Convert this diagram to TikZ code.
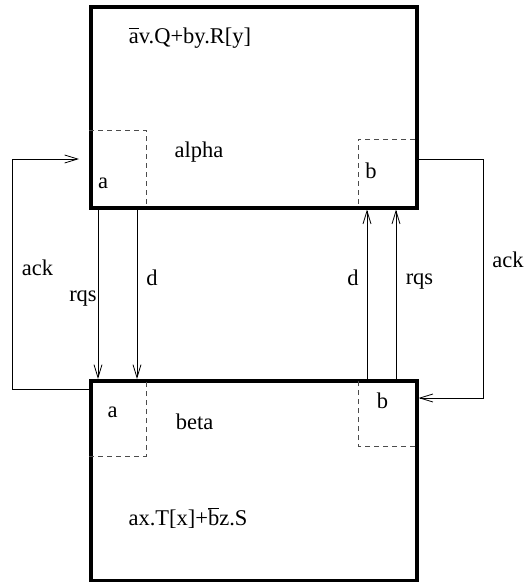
\documentclass[tikz,border=0pt]{standalone}
\usepackage{fontspec}
\setmainfont{Liberation Serif}
\usetikzlibrary{arrows.meta,calc}
\newcommand\ovl[1]{$\overline{\vphantom{b}\mbox{#1}}$}
\begin{document}
\begin{tikzpicture}[x=1pt,y=-1pt,
  proc/.style={draw, line width=3.6pt, minimum width=326pt, anchor=north west, inner sep=0pt},
  port/.style={draw=black!70, line width=0.9pt, dash pattern=on 5pt off 4pt},
  wire/.style={line width=0.8pt},
  arr/.style={wire, -{Straight Barb[length=13pt, width=8pt, line width=0.8pt]}},
  lbl/.style={inner sep=0pt, font=\fontsize{22.5}{27}\selectfont}]
\useasboundingbox (0,0) rectangle (526,582);
% process boxes
\node[proc, minimum height=201pt] (alpha) at (89,5) {};
\node[proc, minimum height=199.5pt] (beta) at (89,379) {};
% dashed ports
\draw[port] (89,130) -- (146,130) -- (146,206);
\draw[port] (415,139) -- (358,139) -- (358,206);
\draw[port] (89,456) -- (146,456) -- (146,379);
\draw[port] (415,446) -- (358,446) -- (358,379);
% texts
\node[lbl, anchor=base] (f1) at (190,43.5) {\ovl{a}v.Q+by.R[y]};
\node[lbl] (alab) at (199,152) {alpha};
\node[lbl] (aA) at (103,183) {a};
\node[lbl] (bA) at (371,170.5) {b};
\node[lbl] (blab) at (194.5,421.5) {beta};
\node[lbl] (aB) at (112.5,412.5) {a};
\node[lbl] (bB) at (382.5,400.5) {b};
\node[lbl, anchor=base] (f2) at (188,525) {ax.T[x]+\ovl{b}z.S};
\node[lbl] (ackL) at (37.5,268) {ack};
\node[lbl] (rqsL) at (83,298) {rqs};
\node[lbl] (dL) at (152,277.5) {d};
\node[lbl] (dR) at (353,278) {d};
\node[lbl] (rqsR) at (419.5,281.5) {rqs};
\node[lbl] (ackR) at (508,260) {ack};
% coordinates
\coordinate (x1) at (98,0);
\coordinate (x2) at (137,0);
\coordinate (x3) at (367,0);
\coordinate (x4) at (396,0);
\coordinate (yL1) at (0,389);
\coordinate (yL2) at (0,159);
\coordinate (cL1) at (12,389);
\coordinate (cL2) at (12,159);
\coordinate (tipL) at (79,159);
\coordinate (cR1) at (483,159);
\coordinate (cR2) at (483,398);
\coordinate (yR) at (0,398);
% vertical channels
\draw[arr] (x1 |- alpha.south) -- (x1 |- beta.north);
\draw[arr] (x2 |- alpha.south) -- (x2 |- beta.north);
\draw[arr] (x3 |- beta.north) -- (x3 |- alpha.south);
\draw[arr] (x4 |- beta.north) -- (x4 |- alpha.south);
% ack loops
\draw[arr] (beta.west |- cL1) -- (cL1) -- (cL2) -- (tipL);
\draw[arr] (alpha.east |- cR1) -- (cR1) -- (cR2) -- (beta.east |- cR2);
\end{tikzpicture}
\end{document}
